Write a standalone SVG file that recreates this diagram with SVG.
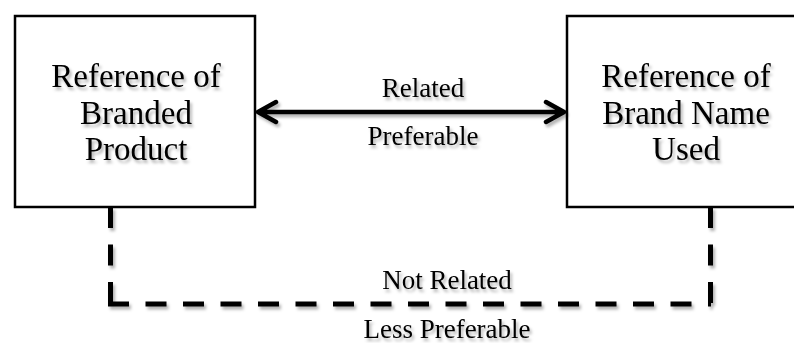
<svg xmlns="http://www.w3.org/2000/svg" width="794" height="343" viewBox="0 0 794 343">
<defs>
<style>
.box{fill:#fff;stroke:#000;stroke-width:2.5}
.big{font-family:"Liberation Serif",serif;font-size:33px;fill:#000;text-anchor:middle}
.small{font-family:"Liberation Serif",serif;font-size:27px;fill:#000;text-anchor:middle}
.dash{fill:none;stroke:#000;stroke-width:5;stroke-dasharray:21 16.5}
.arrow{fill:none;stroke:#000;stroke-width:4.5;stroke-linecap:round;stroke-linejoin:round}
</style>
<filter id="sh" x="-10%" y="-20%" width="130%" height="160%">
<feDropShadow dx="2" dy="3" stdDeviation="1.5" flood-color="#000" flood-opacity="0.3"/>
</filter>
</defs>
<rect width="794" height="343" fill="#fff"/>
<g id="node-branded-product">
<rect class="box" x="15" y="16" width="240" height="191"/>
<g filter="url(#sh)">
<text class="big" x="136" y="87">Reference of</text>
<text class="big" x="136" y="124">Branded</text>
<text class="big" x="136" y="160">Product</text>
</g>
</g>
<g id="node-brand-name-used">
<rect class="box" x="567" y="16" width="240" height="191"/>
<g filter="url(#sh)">
<text class="big" x="686" y="87">Reference of</text>
<text class="big" x="686" y="124">Brand Name</text>
<text class="big" x="686" y="160">Used</text>
</g>
</g>
<g id="connectors" filter="url(#sh)">
<g id="related">
<path class="arrow" d="M258,112 H564 M276,102 L258,112 L276,122 M546,102 L564,112 L546,122"/>
<text class="small" x="423" y="97">Related</text>
<text class="small" x="423" y="145">Preferable</text>
</g>
<g id="not-related">
<line class="dash" x1="110.5" y1="207" x2="110.5" y2="306.5"/>
<line class="dash" x1="108" y1="304" x2="711" y2="304"/>
<line class="dash" x1="710.5" y1="207" x2="710.5" y2="306.5"/>
<text class="small" x="447" y="289">Not Related</text>
<text class="small" x="447" y="338">Less Preferable</text>
</g>
</g>
</svg>
